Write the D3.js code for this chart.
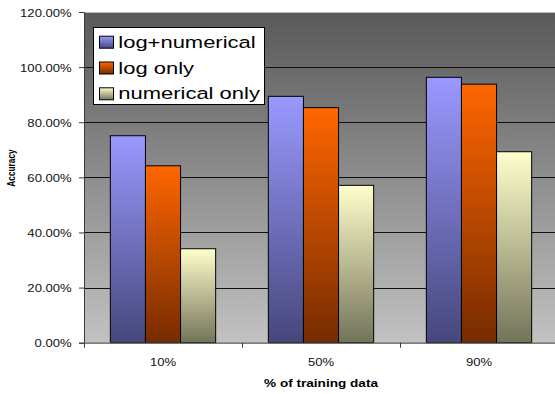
<!DOCTYPE html>
<html>
<head>
<meta charset="utf-8">
<script src="https://cdn.jsdelivr.net/npm/d3@7"></script>
<style>
  html, body { margin: 0; padding: 0; background: #fff; }
  svg { display: block; font-family: Arial, "Liberation Sans", sans-serif; }
</style>
</head>
<body>
<svg id="chart" width="555" height="394"></svg>
<script>
// ---- data ----
const categories = ["10%", "50%", "90%"];
const seriesNames = ["log+numerical", "log only", "numerical only"];
const logNumerical = [0.751, 0.894, 0.963];
const logOnly = [0.642, 0.853, 0.938];
const numericalOnly = [0.341, 0.571, 0.693];
const yTicks = [0, 0.2, 0.4, 0.6, 0.8, 1.0, 1.2];
const yTitle = "Accuracy";
const xTitle = "% of training data";

(function () {
const seriesValues = [logNumerical, logOnly, numericalOnly];
const seriesColors = [
  { top: "#9999ff", bottom: "#47477c" },
  { top: "#ff6600", bottom: "#762b00" },
  { top: "#ffffcc", bottom: "#73735a" }
];

const SX = 1.27; // horizontal text stretch of the original picture

const svg = d3.select("#chart");
const pL = 84, pT = 12, pB = 342.7, pR = 558;

const y = d3.scaleLinear().domain([0, 1.2]).range([pB, pT]);
const x = d3.scaleBand().domain(categories).range([pL, pR]).padding(0);
const xs = d3.scaleBand().domain(d3.range(seriesNames.length))
  .range([x.bandwidth() * 0.1667, x.bandwidth() * 0.8333]).padding(0);

const defs = svg.append("defs");
const bg = defs.append("linearGradient").attr("id", "bg")
  .attr("x1", 0).attr("y1", 0).attr("x2", 0).attr("y2", 1);
bg.append("stop").attr("offset", "0%").attr("stop-color", "#595959");
bg.append("stop").attr("offset", "100%").attr("stop-color", "#c2c2c2");

seriesColors.forEach((c, i) => {
  const g = defs.append("linearGradient").attr("id", "g" + i)
    .attr("x1", 0).attr("y1", 0).attr("x2", 0).attr("y2", 1);
  g.append("stop").attr("offset", "0%").attr("stop-color", c.top);
  g.append("stop").attr("offset", "100%").attr("stop-color", c.bottom);
});

// plot background
svg.append("rect")
  .attr("x", pL).attr("y", pT)
  .attr("width", pR - pL).attr("height", pB - pT)
  .attr("fill", "url(#bg)");
svg.append("line")
  .attr("x1", pL).attr("x2", pR).attr("y1", pT + 0.5).attr("y2", pT + 0.5)
  .attr("stroke", "#bdbdbd").attr("stroke-width", 1.2);

// gridlines
svg.append("g").selectAll("line")
  .data(yTicks.filter(t => t > 0 && t < 1.2))
  .join("line")
  .attr("x1", pL).attr("x2", pR)
  .attr("y1", d => Math.round(y(d)) + 0.5).attr("y2", d => Math.round(y(d)) + 0.5)
  .attr("stroke", "#111").attr("stroke-width", 1);

// bars
const groups = svg.append("g").selectAll("g")
  .data(categories)
  .join("g")
  .attr("transform", d => `translate(${x(d)},0)`);

groups.selectAll("rect")
  .data((c, ci) => seriesValues.map((vals, si) => ({ si, v: vals[ci] })))
  .join("rect")
  .attr("x", d => xs(d.si))
  .attr("width", xs.bandwidth())
  .attr("y", d => y(d.v))
  .attr("height", d => pB - y(d.v))
  .attr("fill", d => `url(#g${d.si})`)
  .attr("stroke", "#000").attr("stroke-width", 1);

// y axis
const yAxis = d3.axisLeft(y).tickValues(yTicks).tickFormat(d3.format(".2%"))
  .tickSize(5).tickPadding(0);
const ya = svg.append("g").attr("transform", `translate(${pL},0)`).call(yAxis);
ya.select(".domain").attr("stroke", "#3a3a3a");
ya.selectAll(".tick line").attr("stroke", "#3a3a3a");
ya.selectAll(".tick text")
  .attr("x", null).attr("dy", null)
  .attr("font-size", 10.3).attr("fill", "#111")
  .attr("font-family", "Arial, 'Liberation Sans', sans-serif")
  .attr("text-anchor", "end")
  .attr("transform", `translate(-12.3,4) scale(${SX},1)`);

// x axis
const xAxis = d3.axisBottom(x).tickSize(0).tickPadding(0);
const xa = svg.append("g").attr("transform", `translate(0,${pB})`).call(xAxis);
xa.select(".domain").attr("stroke", "#555").attr("stroke-width", 1.3);
xa.selectAll(".tick text")
  .attr("y", null).attr("dy", null)
  .attr("font-size", 10.3).attr("fill", "#111")
  .attr("font-family", "Arial, 'Liberation Sans', sans-serif")
  .attr("transform", `translate(0,23.3) scale(${SX},1)`);
// category boundary ticks
svg.append("g").selectAll("line")
  .data(categories)
  .join("line")
  .attr("x1", d => x(d) + 0.5).attr("x2", d => x(d) + 0.5)
  .attr("y1", pB).attr("y2", pB + 5)
  .attr("stroke", "#3a3a3a");

// axis titles
svg.append("text")
  .attr("transform", `translate(${(pL + pR) / 2},386.5) scale(${SX},1)`)
  .attr("text-anchor", "middle").attr("font-weight", "bold")
  .attr("font-size", 10.7).attr("fill", "#000")
  .text(xTitle);

svg.append("text")
  .attr("transform", `translate(15,168) scale(${SX},1) rotate(-90)`)
  .attr("text-anchor", "middle").attr("font-weight", "bold")
  .attr("font-size", 8.3).attr("fill", "#000")
  .text(yTitle);

// legend
const lg = svg.append("g");
lg.append("rect")
  .attr("x", 93.5).attr("y", 27.5).attr("width", 171).attr("height", 77)
  .attr("fill", "#fff").attr("stroke", "#000").attr("stroke-width", 1);
const items = lg.selectAll("g.item")
  .data(seriesNames)
  .join("g").attr("class", "item")
  .attr("transform", (d, i) => `translate(0,${47.7 + i * 25.8})`);
items.append("rect")
  .attr("x", 99.5).attr("y", -11.5).attr("width", 14).attr("height", 12)
  .attr("fill", (d, i) => `url(#g${i})`)
  .attr("stroke", "#000").attr("stroke-width", 1);
items.append("text")
  .attr("transform", `translate(118.3,0) scale(${SX},1)`)
  .attr("font-size", 17.3).attr("fill", "#000")
  .text(d => d);
})();
</script>
</body>
</html>
